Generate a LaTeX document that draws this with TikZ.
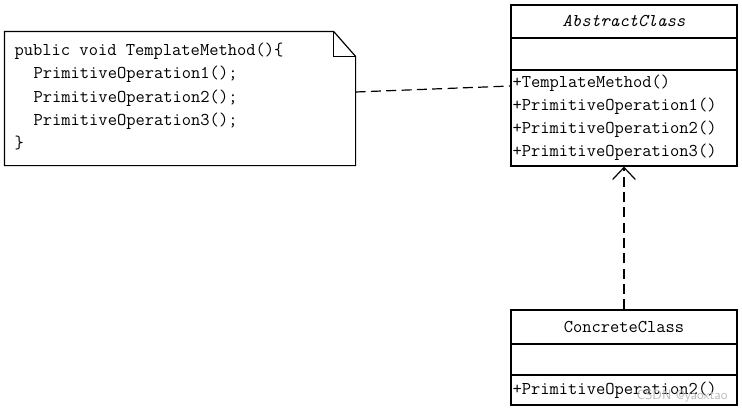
\documentclass[tikz,border=0pt]{standalone}
\usepackage{fontspec}
\usetikzlibrary{arrows.meta,calc}
\newcommand{\umlfont}{\ttfamily\fontsize{13.5}{16}\selectfont}
\begin{document}
\begin{tikzpicture}[x=0.75pt,y=-0.75pt,line width=0.9pt,
  box/.style={draw,rectangle,inner sep=0pt,line width=0.9pt},
  txt/.style={inner sep=0pt,anchor=base west,font=\umlfont},
  title/.style={inner sep=0pt,anchor=base,font=\umlfont},
  dashline/.style={line width=0.9pt,dash pattern=on 7.5pt off 4pt}]
\useasboundingbox[fill=white] (0,0) rectangle (742,411);
% AbstractClass
\node[box,minimum width=169.5pt,minimum height=120.75pt] (ac) at (624,85.5) {};
\draw (ac.west |- 0,38) -- (ac.east |- 0,38);
\draw (ac.west |- 0,70) -- (ac.east |- 0,70);
\node[title,font=\umlfont\itshape] (acname) at (624,26) {AbstractClass};
\node[txt] (m1) at (512,87) {+TemplateMethod()};
\node[txt] (m2) at (512,110) {+PrimitiveOperation1()};
\node[txt] (m3) at (512,133) {+PrimitiveOperation2()};
\node[txt] (m4) at (512,156) {+PrimitiveOperation3()};
% ConcreteClass
\node[box,minimum width=169.5pt,minimum height=71.25pt] (cc) at (624,357.5) {};
\draw (cc.west |- 0,344) -- (cc.east |- 0,344);
\draw (cc.west |- 0,375) -- (cc.east |- 0,375);
\node[title] (ccname) at (624,332) {ConcreteClass};
\node[txt] (c1) at (512,394) {+PrimitiveOperation2()};
% Note
\node[rectangle,inner sep=0pt,minimum width=262.5pt,minimum height=99.75pt] (note) at (180,98.5) {};
\draw (note.south west) -- (note.north west) -- ($(note.north east)+(-22,0)$)
  -- ($(note.north east)+(0,25)$) -- (note.south east) -- cycle;
\draw ($(note.north east)+(-22,0)$) -- ($(note.north east)+(-22,25)$) -- ($(note.north east)+(0,25)$);
\node[txt] (n1) at (14,55) {public void TemplateMethod()\{};
\node[txt] (n2) at (33,78) {PrimitiveOperation1();};
\node[txt] (n3) at (33,102) {PrimitiveOperation2();};
\node[txt] (n4) at (33,125) {PrimitiveOperation3();};
\node[txt] (n5) at (14,148) {\}};
% connectors
\coordinate (noteA) at (note.east |- 0,92);
\coordinate (acA) at (ac.west |- 0,86);
\draw[dashline] (noteA) -- (acA);
\draw[dashline,-{Straight Barb[length=9pt,width=17pt]}] (cc.north) -- (ac.south);
% watermark
\node[inner sep=0pt,anchor=east,font=\sffamily\fontsize{10}{12}\selectfont,text=gray!55] (wm) at (728,396) {CSDN @yaoxtao};
\end{tikzpicture}
\end{document}
